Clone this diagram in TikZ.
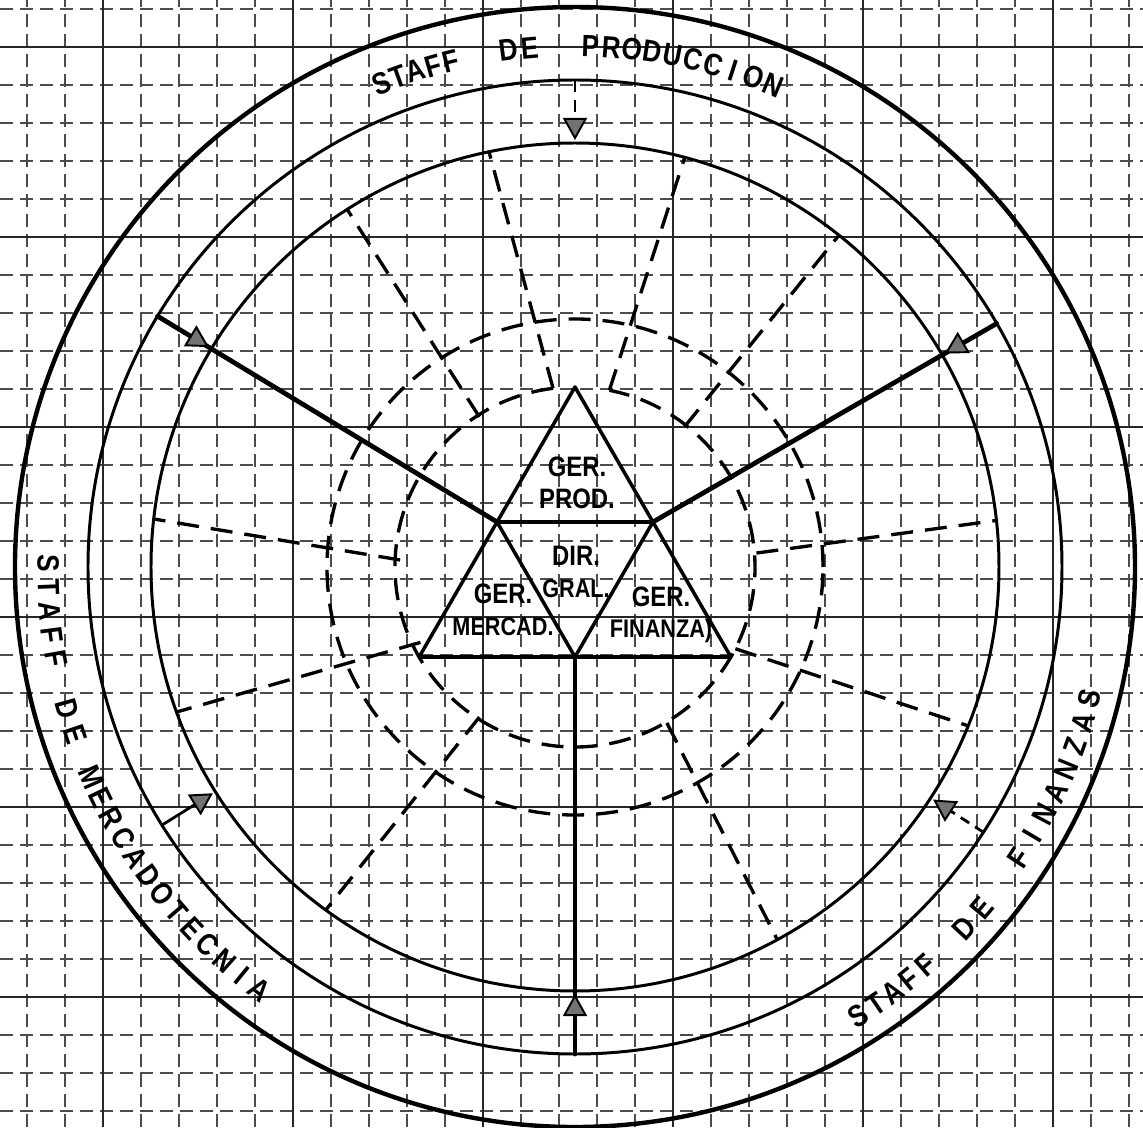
\documentclass[tikz,border=0pt]{standalone}
\usepackage{fontspec}
\setmainfont{Liberation Sans}
\newfontfamily\letra[FakeStretch=0.85]{Liberation Sans}
\usepackage{tikz}
\usetikzlibrary{arrows.meta}
% one word round the ring: radius, first angle, step, turn of the letters, name, letters
\newcommand{\arcword}[6]{%
  \foreach \ch [count=\k from 0] in {#6}
    \node[letra, rotate={#2+\k*(#3)+#4}] (#5\k) at ({#2+\k*(#3)}:#1) {\ch};}
\tikzset{
  papel/.style   ={line width=0.6pt, black!70, dash pattern=on 2.6mm off 1.4mm}, % fine grid
  papelmj/.style ={line width=0.9pt, black!85},                                % every fifth line
  borde/.style   ={line width=2.5pt},
  anillo/.style  ={line width=1.7pt},
  linea/.style   ={line width=2.7pt, line cap=round},
  tri/.style     ={line width=2pt, line join=round},
  guia/.style    ={line width=1.9pt, dash pattern=on 4.4mm off 2.4mm},
  flujo/.style   ={-{Triangle[length=4.4mm, width=4.8mm, fill=black!55, line width=1.1pt]}, line width=1.6pt}, % staff -> line
  ger/.style     ={font=\letra\bfseries\fontsize{16}{18}\selectfont, align=center, inner sep=0pt},
  letra/.style   ={font=\letra\bfseries\fontsize{17.5}{18}\selectfont, inner sep=0pt},
}

\begin{document}
\begin{tikzpicture}[x=0.2mm, y=0.2mm]
  \useasboundingbox (-575,-560) rectangle (568,567);

  % GRID: graph paper under everything
  \foreach \gx in {-548,-510,...,554} \draw[papel] (\gx,-560) -- (\gx,567);
  \foreach \gy in {-544,-506,...,558} \draw[papel] (-575,\gy) -- (568,\gy);
  \foreach \gx in {-472,-282,...,478} \draw[papelmj] (\gx,-560) -- (\gx,567);
  \foreach \gy in {-430,-240,...,520} \draw[papelmj] (-575,\gy) -- (568,\gy);

  % RINGS: staff ring between outer and middle circle
  \draw[borde]  (0,0) circle[radius=560];
  \draw[anillo] (0,0) circle[radius=487];
  \draw[anillo] (0,0) circle[radius=424];

  % DASHED GUIDES
  \draw[guia] (0,0) circle[radius=248];
  \draw[guia] (97:180) arc[start angle=97, end angle=439, radius=180];
  \foreach \a/\r/\b in {97/180/101.7, 79/180/75, 122.5/178/122.5, 52/178/51.5,
                        4.4/182/6.3, -27/180/-22, -59.5/181/-61.5,
                        237.5/178/234, 206/172/200, 177.7/175/173.5}
    \draw[guia] (\a:\r) -- (\b:424);

  % TRIANGLE: three managers round the director
  \coordinate (tp) at (90:180);
  \coordinate (tl) at (210:180);
  \coordinate (tr) at (330:180);
  \coordinate (ml) at (150:90);
  \coordinate (mr) at (30:90);
  \coordinate (mb) at (270:90);
  \draw[tri] (tp) -- (tl) -- (tr) -- cycle;
  \draw[tri] (ml) -- (mr) -- (mb) -- cycle;

  % LINES: from the triangle out to the staff ring
  \coordinate (ol) at (149:487);
  \coordinate (or) at (30:487);
  \coordinate (ob) at (270:487);
  \draw[linea] (ml) -- (ol);
  \draw[linea] (mr) -- (or);
  \draw[linea] (mb) -- (ob);

  % STAFF ARROWS: ring -> inner circle
  \coordinate (ap) at (90:487);
  \coordinate (am) at (212:487);
  \coordinate (af) at (327:487);
  \draw[flujo, dash pattern=on 2.4mm off 1.6mm] (ap) -- (90:427);
  \draw[flujo] (ol) -- (149:427);
  \draw[flujo] (or) -- (30:427);
  \draw[flujo] (ob) -- (270:427);
  \draw[flujo] (am) -- (212:427);
  \draw[flujo, dash pattern=on 2mm off 1.4mm] (af) -- (327:427);

  % LABELS
  \node[ger] (gp) at (2,84)    {GER.\\PROD.};
  \node[ger] (dg) at (1,-5)    {DIR.\\{\fontsize{14.5}{18}\selectfont GRAL.}};
  \node[ger] (gm) at (-72,-43) {GER.\\{\fontsize{14.5}{18}\selectfont MERCAD.}};
  \node[ger] (gf) at (86,-48)  {GER.\\{\fontsize{14.5}{18}\selectfont FINANZA)}};

  % STAFF TEXT: top reads clockwise, the others counter-clockwise
  \arcword{521}{111.8}{-2.0}{-90}{ps}{S,T,A,F,F}
  \arcword{521}{97.3}{-2.3}{-90}{pd}{D,E}
  \arcword{521}{88.3}{-2.29}{-90}{pp}{P,R,O,D,U,C,C,I,O,N}
  \arcword{527}{179.6}{2.6}{90}{ms}{S,T,A,F,F}
  \arcword{527}{195.6}{2.9}{90}{md}{D,E}
  \arcword{527}{203.5}{2.48}{90}{mm}{M,E,R,C,A,D,O,T,E,C,N,I,A}
  \arcword{531}{-57.8}{2.28}{90}{fs}{S,T,A,F,F}
  \arcword{531}{-42.9}{2.9}{90}{fd}{D,E}
  \arcword{531}{-33.2}{2.7}{90}{ff}{F,I,N,A,N,Z,A,S}
\end{tikzpicture}
\end{document}
